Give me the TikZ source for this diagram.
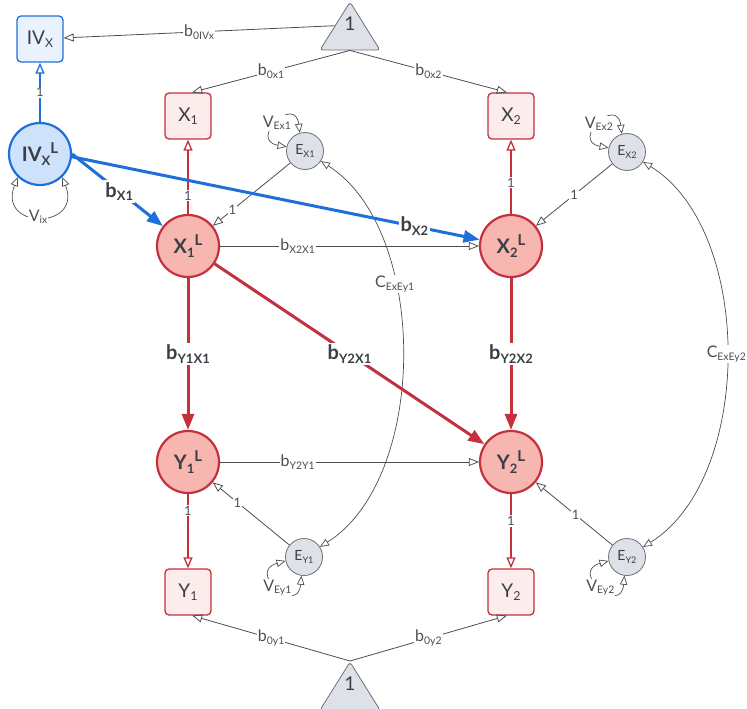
\documentclass[tikz,border=0pt]{standalone}
\usepackage{fontspec}
\setmainfont{Lato}
\usepackage{graphicx}
\usetikzlibrary{arrows.meta,shapes.geometric}

\definecolor{semblue}{HTML}{1F6FDB}
\definecolor{ivboxfill}{HTML}{EAF2FD}
\definecolor{ivlatfill}{HTML}{CFE2FB}
\definecolor{semred}{HTML}{C4303C}
\definecolor{latfill}{HTML}{F8B6B1}
\definecolor{boxfill}{HTML}{FDECEC}
\definecolor{errdraw}{HTML}{6D7177}
\definecolor{errfill}{HTML}{DEE2E8}
\definecolor{linegrey}{HTML}{4A4E54}
\definecolor{txtgrey}{HTML}{3A3F45}

\newcommand{\subtxt}[1]{\raisebox{-0.35ex}{\scalebox{0.65}{#1}}}
\newcommand{\suptxt}[1]{\raisebox{0.75ex}{\scalebox{0.75}{#1}}}

\tikzset{
  obsbox/.style={rectangle,rounded corners=4pt,draw=semred,fill=boxfill,line width=1.3pt,
    minimum width=46pt,minimum height=46pt,inner sep=0pt,text=txtgrey,font=\fontsize{19}{21}\selectfont},
  ivbox/.style={obsbox,draw=semblue,fill=ivboxfill},
  latent/.style={circle,draw=semred,fill=latfill,line width=2.2pt,minimum size=62pt,inner sep=0pt,
    text=txtgrey,font=\bfseries\fontsize{20}{22}\selectfont},
  ivlatent/.style={latent,draw=semblue,fill=ivlatfill},
  errnode/.style={circle,draw=errdraw,fill=errfill,line width=0.8pt,minimum size=37pt,inner sep=0pt,
    text=txtgrey,font=\fontsize{14}{16}\selectfont},
  meanstri/.style={isosceles triangle,shape border rotate=90,isosceles triangle stretches,
    minimum width=60pt,minimum height=48pt,inner sep=0pt,rounded corners=3pt,draw=errdraw,fill=errfill,
    line width=0.8pt,anchor=apex},
  trinum/.style={text=txtgrey,font=\fontsize{19}{21}\selectfont,yshift=10pt},
  regline/.style={draw=linegrey,line width=0.8pt,-{Triangle[open,length=10pt,width=8pt]}},
  covline/.style={draw=linegrey,line width=0.7pt,
    {Triangle[open,length=9pt,width=7.5pt]}-{Triangle[open,length=9pt,width=7.5pt]}},
  redfix/.style={draw=semred,line width=2.4pt,-{Triangle[open,length=11pt,width=9pt,line width=1.3pt]}},
  ivfix/.style={redfix,draw=semblue},
  redpath/.style={draw=semred,line width=3pt,-{Triangle[length=16pt,width=12pt]}},
  ivpath/.style={redpath,draw=semblue},
  elab/.style={fill=white,inner sep=1pt,text=linegrey,font=\fontsize{16}{18}\selectfont},
  nlab/.style={fill=white,inner sep=1pt,text=linegrey,font=\fontsize{13}{15}\selectfont},
  blab/.style={fill=white,inner sep=2pt,text=txtgrey,font=\bfseries\fontsize{20}{22}\selectfont}
}

\begin{document}
\begin{tikzpicture}[x=1pt,y=-1pt]
\useasboundingbox (0,0) rectangle (747,709);

\node[meanstri,label={[trinum,name=T1n]center:1}] (T1) at (350,1) {};
\node[meanstri,label={[trinum,name=T2n]center:1}] (T2) at (350,661) {};

\node[ivbox] (IV) at (40,39) {IV\subtxt{X}};
\node[ivlatent] (IVL) at (40,154) {IV\subtxt{X}\suptxt{L}};

\node[obsbox] (X1) at (188,116) {X\subtxt{1}};
\node[obsbox] (X2) at (511,116) {X\subtxt{2}};
\node[obsbox] (Y1) at (188,592) {Y\subtxt{1}};
\node[obsbox] (Y2) at (511,592) {Y\subtxt{2}};

\node[latent] (X1L) at (188,246) {X\subtxt{1}\suptxt{L}};
\node[latent] (X2L) at (511,246) {X\subtxt{2}\suptxt{L}};
\node[latent] (Y1L) at (188,462) {Y\subtxt{1}\suptxt{L}};
\node[latent] (Y2L) at (511,462) {Y\subtxt{2}\suptxt{L}};

\node[errnode] (EX1) at (305,151) {E\subtxt{X1}};
\node[errnode] (EX2) at (627,152) {E\subtxt{X2}};
\node[errnode] (EY1) at (304,557) {E\subtxt{Y1}};
\node[errnode] (EY2) at (627,557) {E\subtxt{Y2}};

\draw[covline] (EX1) .. controls (429,230) and (429,478) .. node[elab,pos=0.35] {C\subtxt{ExEy1}} (EY1);
\draw[covline] (EX2) .. controls (754,230) and (754,478) .. node[elab,pos=0.5] {C\subtxt{ExEy2}} (EY2);

\draw[covline] (IVL.226) .. controls (-3,230) and (83,230) .. node[elab,pos=0.48] {V\subtxt{ix}} (IVL.314);
\draw[covline] (EX1.106) .. controls (295,94) and (248,140) .. node[elab,pos=0.5] {V\subtxt{Ex1}} (EX1.167);
\draw[covline] (EX2.106) .. controls (617,95) and (570,141) .. node[elab,pos=0.5] {V\subtxt{Ex2}} (EX2.167);
\draw[covline] (EY1.192) .. controls (246,572) and (298,616) .. node[elab,pos=0.5] {V\subtxt{Ey1}} (EY1.262);
\draw[covline] (EY2.192) .. controls (569,572) and (621,616) .. node[elab,pos=0.5] {V\subtxt{Ey2}} (EY2.262);

\draw[regline] (T1.left side) -- node[elab] {b\subtxt{0IVx}} (IV);
\draw[regline] (T1.270) -- node[elab] {b\subtxt{0x1}} (X1.80);
\draw[regline] (T1.270) -- node[elab] {b\subtxt{0x2}} (X2.100);
\draw[regline] (T2.apex) -- node[elab] {b\subtxt{0y1}} (Y1.-80);
\draw[regline] (T2.apex) -- node[elab] {b\subtxt{0y2}} (Y2.-100);

\foreach \err/\lat/\p in {EX1/X1L/0.75, EX2/X2L/0.5, EY1/Y1L/0.68, EY2/Y2L/0.48}
  \draw[regline] (\err) -- node[nlab,pos=\p] {1} (\lat);

\foreach \lat/\obs/\p in {X1L/X1/0.25, X2L/X2/0.42, Y1L/Y1/0.22, Y2L/Y2/0.36}
  \draw[redfix] (\lat) -- node[nlab,pos=\p] {1} (\obs);

\draw[regline] (X1L) -- node[elab,pos=0.3] {b\subtxt{X2X1}} (X2L);
\draw[regline] (Y1L) -- node[elab,pos=0.3] {b\subtxt{Y2Y1}} (Y2L);

\draw[redpath] (X1L) -- node[blab] {b\subtxt{Y1X1}} (Y1L);
\draw[redpath] (X1L) -- node[blab] {b\subtxt{Y2X1}} (Y2L);
\draw[redpath] (X2L) -- node[blab] {b\subtxt{Y2X2}} (Y2L);

\draw[ivfix] (IVL) -- node[nlab] {1} (IV);
\draw[ivpath] (IVL.east) -- node[blab,pos=0.52] {b\subtxt{X1}} (X1L);
\draw[ivpath] (IVL.-5) -- node[blab,pos=0.84] {b\subtxt{X2}} (X2L);
\end{tikzpicture}
\end{document}
